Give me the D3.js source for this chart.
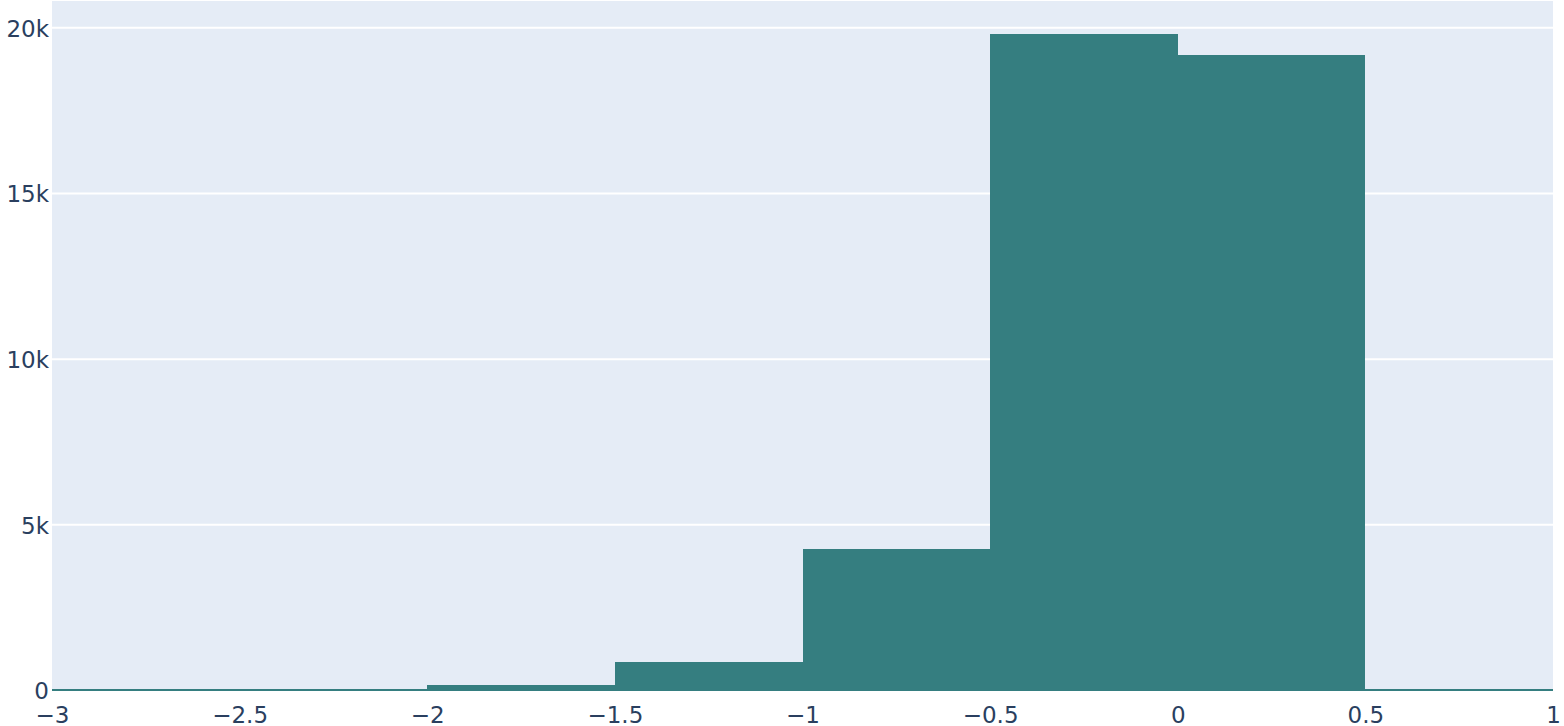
<!DOCTYPE html>
<html>
<head>
<meta charset="utf-8">
<script src="https://cdn.jsdelivr.net/npm/d3@7"></script>
<style>
    body { margin: 0; background: #fff; }
    svg { display: block; }
</style>
</head>
<body>
<svg></svg>
<script>
// Histogram bins (lower edges, width 0.5) and counts
const binStarts = [-3, -2.5, -2, -1.5, -1, -0.5, 0, 0.5];
const binWidth = 0.5;
const counts = [55, 55, 165, 850, 4270, 19820, 19185, 55];
const xTicks = [-3, -2.5, -2, -1.5, -1, -0.5, 0, 0.5, 1];
const yTicks = [0, 5000, 10000, 15000, 20000];

// Set standards
const width = 1564;
const height = 726;
const margin = {top: 1, right: 11, bottom: 35.5, left: 52};
const font = '"DejaVu Sans", Verdana, sans-serif';
const fontSize = 23;
const textColor = '#2a3f5f';

const svg = d3.select('svg')
    .attr('width', width)
    .attr('height', height);

const x = d3.scaleLinear()
    .domain([-3, 1])
    .range([margin.left, width - margin.right]);

// Plotly style autorange: max plus 5%
const y = d3.scaleLinear()
    .domain([0, d3.max(counts) * 1.05])
    .range([height - margin.bottom, margin.top]);

// Plot background
svg.append('rect')
    .attr('x', x(-3))
    .attr('y', margin.top)
    .attr('width', x(1) - x(-3))
    .attr('height', y(0) - margin.top)
    .attr('fill', '#e5ecf6');

// Grid lines
svg.append('g')
    .selectAll('line')
    .data(yTicks.filter(d => d > 0))
    .join('line')
    .attr('x1', x(-3))
    .attr('x2', x(1))
    .attr('y1', d => y(d))
    .attr('y2', d => y(d))
    .attr('stroke', '#fff')
    .attr('stroke-width', 2);

// Bars
svg.append('g')
    .attr('shape-rendering', 'crispEdges')
    .selectAll('rect')
    .data(binStarts.map((s, i) => ({start: s, count: counts[i]})))
    .join('rect')
    .attr('x', d => x(d.start))
    .attr('width', d => x(d.start + binWidth) - x(d.start))
    .attr('y', d => y(d.count))
    .attr('height', d => y(0) - y(d.count))
    .attr('fill', '#357e80');

// Y axis
const yAxis = svg.append('g')
    .attr('transform', `translate(${margin.left - 3},0)`)
    .call(d3.axisLeft(y).tickValues(yTicks).tickSize(0).tickPadding(0).tickFormat(d3.format('~s')));
yAxis.select('.domain').remove();
yAxis.selectAll('text')
    .attr('dy', '0.36em')
    .attr('font-size', fontSize)
    .attr('font-family', font)
    .attr('fill', textColor);

// X axis
const xAxis = svg.append('g')
    .attr('transform', `translate(0,${y(0)})`)
    .call(d3.axisBottom(x).tickValues(xTicks).tickSize(0).tickPadding(0).tickFormat(d3.format('~g')));
xAxis.select('.domain').remove();
xAxis.selectAll('text')
    .attr('dy', null)
    .attr('y', 32)
    .attr('font-size', fontSize)
    .attr('font-family', font)
    .attr('fill', textColor);
</script>
</body>
</html>
